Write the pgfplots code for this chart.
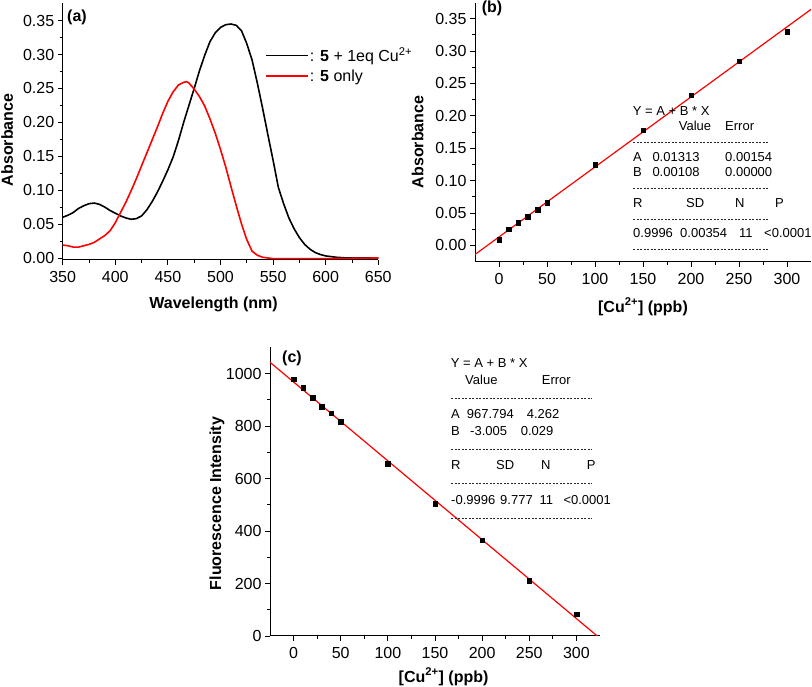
\documentclass[border=0pt]{standalone}
\usepackage{fontspec}
\setmainfont{Liberation Sans}
\usepackage{pgfplots}
\pgfplotsset{compat=1.18}
\pgfplotsset{legend image code/.code={\draw[#1] (0pt,0pt) -- (42pt,0pt);}}
\pgfplotsset{
 orig/.style={
  scale only axis,
  axis x line*=bottom, axis y line*=left,
  axis line style={line width=1pt},
  tick align=outside,
  major tick length=5pt, minor tick length=3pt,
  every tick/.style={black, line width=0.9pt},
  minor tick num=1,
  scaled ticks=false,
  /pgf/number format/assume math mode=true,
  /pgf/number format/1000 sep={},
  tick label style={font=\fontsize{16}{19}\selectfont},
  xticklabel style={yshift=-3pt},
  label style={font=\bfseries\fontsize{16}{19}\selectfont},
 }
}
\newcommand{\bt}[3]{\node[anchor=west,inner sep=0pt,font=\fontsize{13}{15}\selectfont] at (#1pt,#2pt) {#3};}
\newcommand{\dl}[3]{\draw[line width=0.6pt, dash pattern=on 2.2pt off 1.3pt, black!85] (#1pt,#3pt) -- (#2pt,#3pt);}
\begin{document}
\begin{tikzpicture}
\path[use as bounding box] (0pt,0pt) rectangle (812pt,687pt);

% ---------- (a)
\begin{axis}[orig, at={(62.7pt,427pt)}, anchor=south west, width=315.6pt, height=257pt,
 xmin=350, xmax=650, ymin=-0.003, ymax=0.376,
 xtick={350,400,450,500,550,600,650},
 ytick={0,0.05,0.1,0.15,0.2,0.25,0.3,0.35},
 yticklabel style={/pgf/number format/fixed, /pgf/number format/fixed zerofill, /pgf/number format/precision=2},
 xlabel={Wavelength (nm)}, ylabel={Absorbance},
 xlabel style={at={(axis description cs:0.478,-0.171)}, anchor=center},
 ylabel style={at={(axis description cs:-0.176,0.467)}, anchor=center, rotate=0},
 legend style={draw=none, fill=none, at={(axis description cs:0.641,0.83)}, anchor=north west,
   inner sep=0pt, row sep=4pt, font=\fontsize{16}{18}\selectfont, nodes={inner sep=1pt}},
 legend cell align=left,
]
\addplot[black, line width=1.6pt] coordinates {
(350,0.060) (355,0.063) (360,0.067) (365,0.073) (370,0.077) (375,0.080) (380,0.081) (385,0.079)
(390,0.075) (395,0.070) (400,0.066) (405,0.062) (410,0.059) (415,0.057) (420,0.058) (425,0.062)
(430,0.071) (435,0.083) (440,0.097) (445,0.113) (450,0.130) (455,0.149) (460,0.173) (465,0.200)
(470,0.225) (475,0.250) (480,0.276) (485,0.299) (490,0.319) (495,0.332) (500,0.340) (505,0.344)
(510,0.345) (515,0.343) (520,0.335) (525,0.316) (530,0.292) (535,0.258) (540,0.221) (545,0.182)
(550,0.144) (555,0.104) (560,0.080) (565,0.059) (570,0.043) (575,0.030) (580,0.020) (585,0.013)
(590,0.008) (595,0.005) (600,0.003) (610,0.001) (620,0.000) (650,0.000)};
\addlegendentry{: \textbf{5} + 1eq Cu\textsuperscript{2+}}
\addplot[red, line width=1.6pt] coordinates {
(350,0.019) (355,0.018) (360,0.016) (365,0.016) (370,0.018) (375,0.020) (380,0.023) (385,0.028)
(390,0.033) (395,0.040) (400,0.052) (405,0.067) (410,0.082) (415,0.099) (420,0.117) (425,0.136)
(430,0.155) (435,0.174) (440,0.193) (445,0.213) (450,0.231) (455,0.245) (460,0.255) (465,0.259)
(468,0.260) (470,0.258) (475,0.249) (480,0.238) (485,0.224) (490,0.205) (495,0.184) (500,0.160)
(505,0.134) (510,0.105) (515,0.077) (520,0.050) (525,0.027) (530,0.010) (535,0.004) (540,0.001)
(550,-0.001) (600,-0.001) (650,0.000)};
\addlegendentry{: \textbf{5} only}
\end{axis}

% ---------- (b)
\begin{axis}[orig, at={(475pt,425.3pt)}, anchor=south west, width=336pt, height=258.7pt,
 xmin=-25, xmax=325, ymin=-0.025, ymax=0.374,
 xtick={0,50,100,150,200,250,300},
 ytick={0,0.05,0.1,0.15,0.2,0.25,0.3,0.35},
 yticklabel style={/pgf/number format/fixed, /pgf/number format/fixed zerofill, /pgf/number format/precision=2},
 xlabel={[Cu\textsuperscript{2+}] (ppb)}, ylabel={Absorbance},
 xlabel style={at={(axis description cs:0.5,-0.174)}, anchor=center},
 ylabel style={at={(axis description cs:-0.171,0.463)}, anchor=center, rotate=0},
]
\addplot[red, line width=1.2pt] coordinates {(-25,-0.01387) (325,0.36413)};
\addplot[only marks, mark=square*, mark size=2.3pt, black] coordinates {
(0,0.0088) (10,0.025) (20,0.035) (30,0.0448) (40,0.0556) (50,0.066)
(100,0.125) (150,0.178) (200,0.232) (250,0.284) (300,0.330)};
\end{axis}

% ---------- (c)
\begin{axis}[orig, at={(270pt,51pt)}, anchor=south west, width=330pt, height=288.7pt,
 xmin=-25, xmax=325, ymin=0, ymax=1100,
 xtick={0,50,100,150,200,250,300},
 ytick={0,200,400,600,800,1000},
 xlabel={[Cu\textsuperscript{2+}] (ppb)}, ylabel={Fluorescence Intensity},
 xlabel style={at={(axis description cs:0.526,-0.141)}, anchor=center},
 ylabel style={at={(axis description cs:-0.161,0.459)}, anchor=center, rotate=0},
]
\addplot[red, line width=1.2pt] coordinates {(-25,1042.92) (325,-8.86)};
\addplot[only marks, mark=square*, mark size=2.3pt, black] coordinates {
(0,979) (10,945) (20,909) (30,873) (40,849) (50,816)
(100,656) (150,505) (200,365) (250,211) (300,83)};
\end{axis}

% panel labels
\node[font=\bfseries\fontsize{16}{19}\selectfont] at (77pt,670pt) {(a)};
\node[font=\bfseries\fontsize{16}{19}\selectfont] at (492pt,679pt) {(b)};
\node[font=\bfseries\fontsize{16}{19}\selectfont] at (292pt,329pt) {(c)};

% box (b)
\bt{632.7}{576.3}{Y = A + B * X}
\bt{678.7}{561}{Value} \bt{725}{561}{Error}
\dl{633}{768}{545}
\bt{633}{530}{A} \bt{652.3}{530}{0.01313} \bt{725}{530}{0.00154}
\bt{633}{515}{B} \bt{652.3}{515}{0.00108} \bt{725}{515}{0.00000}
\dl{633}{768}{499}
\bt{633}{484}{R} \bt{686}{484}{SD} \bt{735}{484}{N} \bt{775}{484}{P}
\dl{633}{768}{468}
\bt{633}{454}{0.9996} \bt{680}{454}{0.00354} \bt{739}{454}{11} \bt{764}{454}{<0.0001}
\dl{633}{768}{438}

% box (c)
\bt{450.7}{324.3}{Y = A + B * X}
\bt{465}{307}{Value} \bt{541.7}{307}{Error}
\dl{451}{592}{289}
\bt{451}{273}{A} \bt{466.7}{273}{967.794} \bt{526.7}{273}{4.262}
\bt{451}{256}{B} \bt{470}{256}{-3.005} \bt{520.7}{256}{0.029}
\dl{451}{592}{238}
\bt{451}{222}{R} \bt{496}{222}{SD} \bt{541}{222}{N} \bt{586.7}{222}{P}
\dl{451}{592}{204}
\bt{451}{187}{-0.9996} \bt{500}{187}{9.777} \bt{539.3}{187}{11} \bt{563.3}{187}{<0.0001}
\dl{451}{592}{169}
\end{tikzpicture}
\end{document}
